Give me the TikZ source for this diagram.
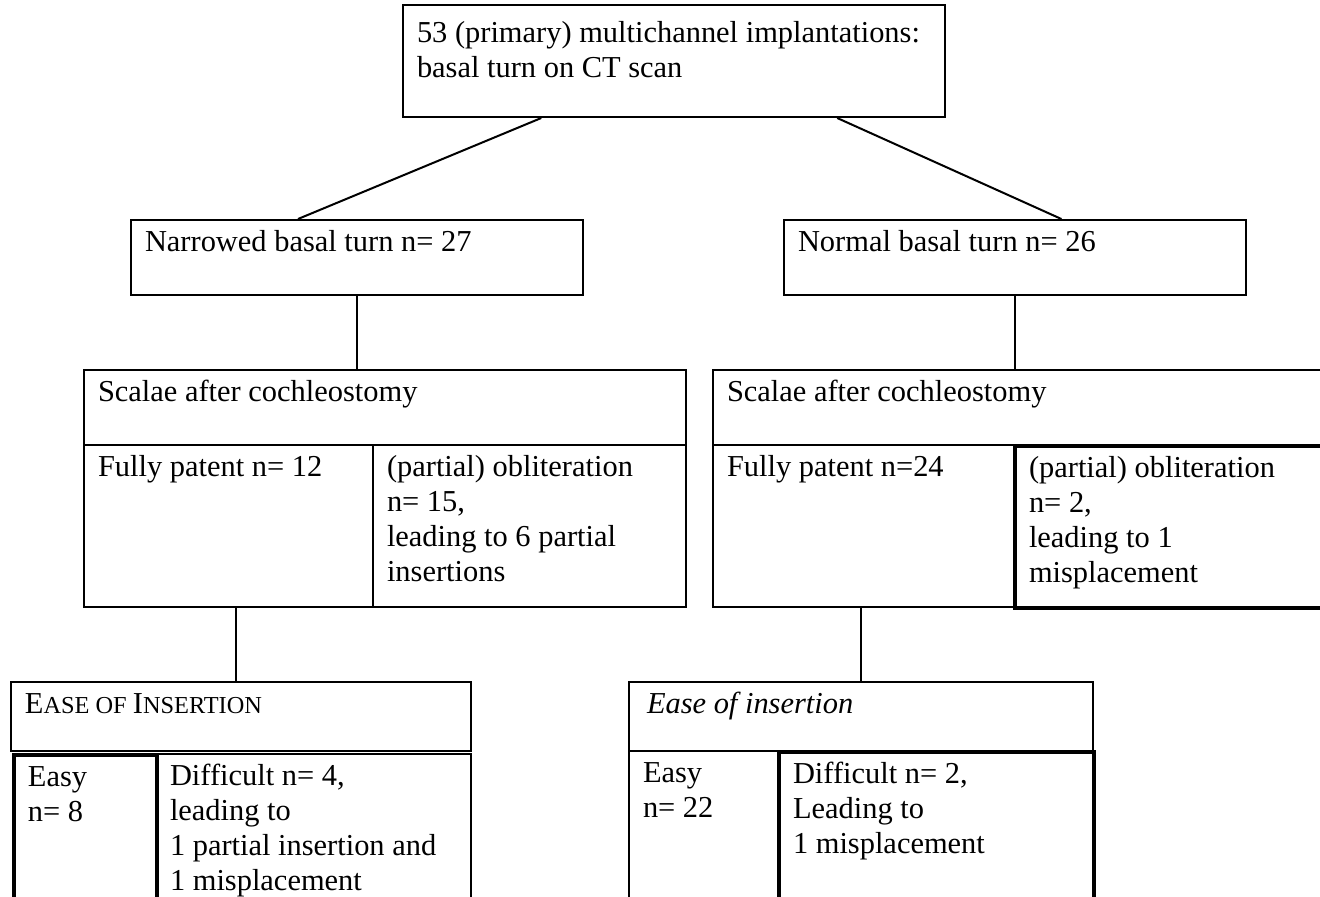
\documentclass[tikz,border=0pt]{standalone}
\usepackage{fontspec}
\setmainfont{Liberation Serif}
\usetikzlibrary{calc}

% one pixel of the layout
\newlength{\px}
\setlength{\px}{0.46pt}

% top aligned text of a cell: width, height, lines
\newcommand{\celltxt}[3]{\parbox[t][\dimexpr#2\px-14\px\relax][t]{#1\px}{\leftskip=14\px\rightskip=0pt plus 1fil\parindent=0pt\strut#3}}
\newcommand{\smc}[1]{{\fontsize{11.2}{16.1}\selectfont #1}}

\tikzset{
  cell/.style={draw, line width=2\px, inner xsep=0pt, inner ysep=7\px,
    anchor=north west, font=\fontsize{14}{16.1}\selectfont},
  thickcell/.style={cell, line width=4\px},
  link/.style={line width=2\px}
}

\begin{document}
\begin{tikzpicture}[x=0.46pt, y=-0.46pt]

    \clip (0,0) rectangle (1320,896);

    % Place the CT boxes
    \node[cell] (top) at (402,4) {\celltxt{542}{112}{\rule{0pt}{30\px}53 (primary) multichannel implantations:\\basal turn on CT scan}};
    \node[cell] (narrow) at (130,219) {\celltxt{452}{75}{Narrowed basal turn n= 27}};
    \node[cell] (normal) at (783,219) {\celltxt{462}{75}{Normal basal turn n= 26}};

    % Place the scalae tables
    \node[cell] (scalL) at (83,369) {\celltxt{602}{75}{Scalae after cochleostomy}};
    \node[cell] (fpL) at (83,444) {\celltxt{289}{162}{Fully patent n= 12}};
    \node[cell] (obL) at (372,444) {\celltxt{313}{162}{(partial) obliteration\\n= 15,\\leading to 6 partial\\insertions}};
    \node[cell] (scalR) at (712,369) {\celltxt{630}{75}{Scalae after cochleostomy}};
    \node[cell] (fpR) at (712,444) {\celltxt{301}{162}{Fully patent n=24}};
    \node[thickcell] (obR) at (1013,444) {\celltxt{330}{162}{(partial) obliteration\\n= 2,\\leading to 1\\misplacement}};

    % Place the insertion tables
    \node[cell] (easeL) at (10,681) {\celltxt{460}{69}{E\smc{ASE OF }I\smc{NSERTION}}};
    \node[cell] (diffL) at (155,753) {\celltxt{315}{200}{Difficult n= 4,\\leading to\\1 partial insertion and\\1 misplacement}};
    \node[thickcell] (easyL) at (12,753) {\celltxt{143}{200}{Easy\\n= 8}};
    \node[cell] (easeR) at (628,681) {\celltxt{464}{69}{\hspace*{4\px}\textit{Ease of insertion}}};
    \node[cell] (easyR) at (628,750) {\celltxt{149}{200}{Easy\\n= 22}};
    \node[thickcell] (diffR) at (777,750) {\celltxt{315}{200}{Difficult n= 2,\\Leading to\\1 misplacement}};

    % Draw the links
    \coordinate (downL) at ($(easeL.north west)!0.49!(easeL.north east)$);
    \draw[link] ($(top.south west)!0.256!(top.south east)$) -- ($(narrow.north west)!0.37!(narrow.north east)$);
    \draw[link] ($(top.south west)!0.80!(top.south east)$) -- ($(normal.north west)!0.60!(normal.north east)$);
    \draw[link] (narrow.south) -- (narrow.south |- scalL.north);
    \draw[link] (normal.south) -- (normal.south |- scalR.north);
    \draw[link] (downL |- fpL.south) -- (downL);
    \draw[link] (easeR.north |- fpR.south) -- (easeR.north);

\end{tikzpicture}
\end{document}
